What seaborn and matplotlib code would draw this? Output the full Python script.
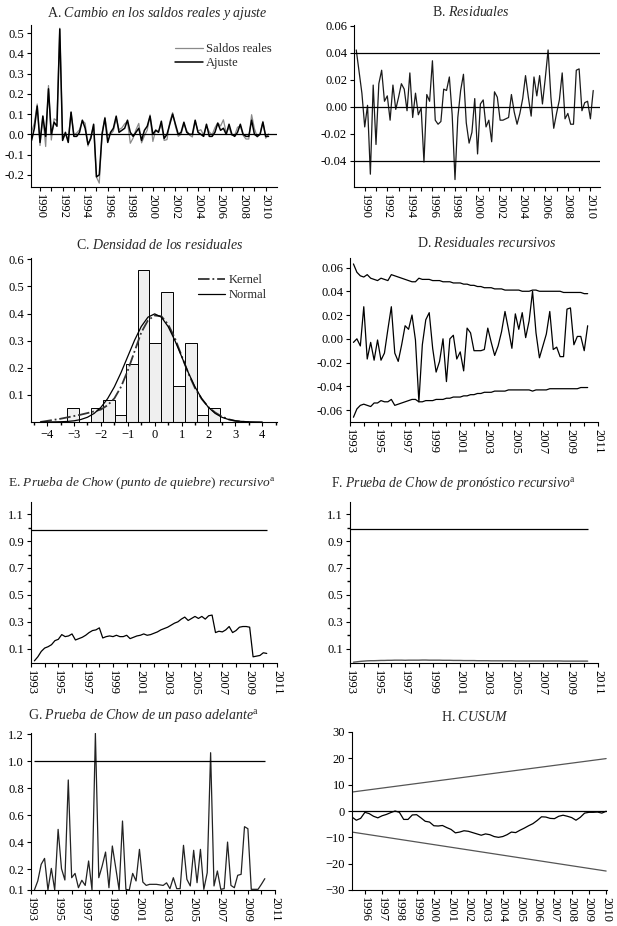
import numpy as np
import pandas as pd
import matplotlib
matplotlib.use("Agg")
import matplotlib.pyplot as plt
import seaborn as sns

# A. change in real balances (actual) and fitted, quarterly from 1989Q2
ajuste = [-0.03, 0.03, 0.14, -0.04, 0.09, -0.01, 0.225, 0.0, 0.06, 0.04,
          0.52, -0.03, 0.01, -0.04, 0.11, -0.01, -0.01, 0.01, 0.07, 0.03,
          -0.05, -0.02, 0.05, -0.21, -0.20, 0.0, 0.08, -0.04, 0.01, 0.03,
          0.09, 0.01, 0.02, 0.03, 0.07, 0.01, -0.01, 0.01, 0.03, -0.03,
          0.02, 0.04, 0.09, 0.0, 0.02, 0.01, 0.065, -0.02, 0.0, 0.05,
          0.10, 0.05, 0.0, 0.01, 0.06, 0.01, 0.0, 0.0, 0.07, 0.01,
          0.0, -0.01, 0.05, -0.01, -0.01, 0.01, 0.055, 0.02, 0.03, 0.0,
          0.05, 0.0, -0.01, 0.01, 0.05, 0.0, -0.01, -0.01, 0.07, 0.0,
          -0.01, 0.0, 0.06, -0.01, -0.01]
saldos = [0.012, 0.056, 0.150, -0.055, 0.091, -0.060, 0.241, -0.028, 0.077, 0.067,
          0.524, -0.022, 0.000, -0.024, 0.108, -0.003, 0.007, 0.023, 0.067, 0.055,
          -0.058, -0.010, 0.044, -0.211, -0.241, 0.009, 0.084, -0.006, 0.000, 0.017,
          0.079, 0.023, 0.032, 0.052, 0.064, -0.044, -0.018, 0.022, 0.054, -0.042,
          -0.007, 0.021, 0.096, -0.035, 0.022, 0.015, 0.050, -0.030, -0.026, 0.061,
          0.107, 0.040, -0.010, 0.001, 0.052, 0.019, -0.004, -0.013, 0.065, 0.016,
          0.023, -0.003, 0.043, 0.012, -0.002, 0.033, 0.057, 0.041, 0.072, 0.007,
          0.034, -0.005, -0.005, 0.035, 0.041, -0.005, -0.023, -0.023, 0.097, 0.028,
          -0.013, 0.003, 0.064, -0.019, 0.002]

# B. residuals
residuales = [0.042, 0.026, 0.010, -0.015, 0.001, -0.050, 0.016, -0.028, 0.017, 0.027,
              0.004, 0.008, -0.010, 0.016, -0.002, 0.007, 0.017, 0.013, -0.003, 0.025,
              -0.008, 0.010, -0.006, -0.001, -0.041, 0.009, 0.004, 0.034, -0.010, -0.013,
              -0.011, 0.013, 0.012, 0.022, -0.006, -0.054, -0.008, 0.012, 0.024, -0.012,
              -0.027, -0.019, 0.006, -0.035, 0.002, 0.005, -0.015, -0.010, -0.026, 0.011,
              0.007, -0.010, -0.010, -0.009, -0.008, 0.009, -0.004, -0.013, -0.005, 0.006,
              0.023, 0.007, -0.007, 0.022, 0.008, 0.023, 0.002, 0.021, 0.042, 0.007,
              -0.016, -0.005, 0.005, 0.025, -0.009, -0.005, -0.013, -0.013, 0.027, 0.028,
              -0.003, 0.003, 0.004, -0.009, 0.012]
resid_bands = [0.04, 0.0, -0.04]

# C. density of residuals
bin_edges = [-3.25, -2.8, -2.38, -1.94, -1.49, -1.07, -0.62, -0.2, 0.23, 0.68,
             1.12, 1.56, 1.99, 2.42]
bin_density = [0.051, 0.0, 0.051, 0.083, 0.026, 0.213, 0.561, 0.293, 0.479, 0.133,
               0.293, 0.026, 0.051]
curve_x = [-4.25, -4.0, -3.75, -3.5, -3.25, -3.0, -2.75, -2.5, -2.25, -2.0,
           -1.75, -1.5, -1.25, -1.0, -0.75, -0.5, -0.25, 0.0, 0.25, 0.5,
           0.75, 1.0, 1.25, 1.5, 1.75, 2.0, 2.25, 2.5, 2.75, 3.0,
           3.25, 3.5, 3.75, 4.0]
kernel_y = [0.0, 0.004, 0.008, 0.012, 0.017, 0.022, 0.027, 0.033, 0.039, 0.046,
            0.062, 0.087, 0.13, 0.19, 0.26, 0.33, 0.375, 0.393, 0.39, 0.36,
            0.31, 0.245, 0.18, 0.125, 0.085, 0.055, 0.035, 0.02, 0.01, 0.004,
            0.001, 0.0, None, None]
normal_y = [0.0, 0.0001, 0.0004, 0.0009, 0.002, 0.0044, 0.0091, 0.0175, 0.0317, 0.054,
            0.0863, 0.1295, 0.1826, 0.242, 0.3011, 0.3521, 0.3867, 0.3989, 0.3867, 0.3521,
            0.3011, 0.242, 0.1826, 0.1295, 0.0863, 0.054, 0.0317, 0.0175, 0.0091, 0.0044,
            0.002, 0.0009, 0.0004, 0.0001]

# D. recursive residuals from 1993Q2 with +/- 2 s.e.
resid_rec = [-0.003, 0.0, -0.006, 0.027, -0.017, -0.003, -0.018, -0.001, -0.018, -0.012,
             0.008, 0.027, -0.012, -0.019, -0.005, 0.011, 0.008, 0.020, -0.001, -0.053,
             -0.005, 0.016, 0.022, -0.008, -0.028, -0.019, 0.0, -0.036, 0.0, 0.003,
             -0.017, -0.011, -0.027, 0.009, 0.005, -0.010, -0.010, -0.010, -0.009, 0.009,
             -0.003, -0.014, -0.006, 0.006, 0.023, 0.008, -0.008, 0.021, 0.008, 0.022,
             0.001, 0.015, 0.040, 0.005, -0.016, -0.006, 0.004, 0.023, -0.009, -0.007,
             -0.015, -0.015, 0.025, 0.026, -0.005, 0.002, 0.002, -0.010, 0.011]
rec_upper = [0.063, 0.056, 0.053, 0.052, 0.054, 0.051, 0.050, 0.049, 0.051, 0.050,
             0.049, 0.054, 0.053, 0.052, 0.051, 0.050, 0.049, 0.048, 0.048, 0.051,
             0.050, 0.050, 0.050, 0.049, 0.049, 0.049, 0.048, 0.048, 0.048, 0.047,
             0.047, 0.047, 0.046, 0.046, 0.045, 0.045, 0.044, 0.044, 0.043, 0.043,
             0.043, 0.042, 0.042, 0.042, 0.041, 0.041, 0.041, 0.041, 0.041, 0.040,
             0.040, 0.040, 0.041, 0.041, 0.040, 0.040, 0.040, 0.040, 0.040, 0.040,
             0.040, 0.039, 0.039, 0.039, 0.039, 0.039, 0.039, 0.038, 0.038]
rec_lower = [-0.066, -0.059, -0.056, -0.055, -0.056, -0.057, -0.054, -0.054, -0.052, -0.053,
             -0.053, -0.051, -0.056, -0.055, -0.054, -0.053, -0.052, -0.051, -0.051, -0.053,
             -0.053, -0.052, -0.052, -0.052, -0.051, -0.051, -0.051, -0.050, -0.050, -0.049,
             -0.049, -0.049, -0.048, -0.048, -0.047, -0.047, -0.046, -0.046, -0.045, -0.045,
             -0.045, -0.044, -0.044, -0.044, -0.044, -0.043, -0.043, -0.043, -0.043, -0.043,
             -0.043, -0.043, -0.044, -0.043, -0.043, -0.043, -0.043, -0.042, -0.042, -0.042,
             -0.042, -0.042, -0.042, -0.042, -0.042, -0.042, -0.041, -0.041, -0.041]

# E. recursive Chow breakpoint test
chow_break = [0.01, 0.04, 0.08, 0.105, 0.115, 0.13, 0.16, 0.17, 0.205, 0.19,
              0.195, 0.21, 0.165, 0.175, 0.185, 0.2, 0.22, 0.235, 0.24, 0.255,
              0.18, 0.19, 0.195, 0.19, 0.2, 0.19, 0.19, 0.2, 0.175, 0.185,
              0.195, 0.2, 0.21, 0.2, 0.205, 0.215, 0.225, 0.24, 0.25, 0.26,
              0.275, 0.29, 0.30, 0.32, 0.335, 0.31, 0.325, 0.34, 0.325, 0.34,
              0.32, 0.345, 0.35, 0.22, 0.23, 0.225, 0.24, 0.265, 0.22, 0.235,
              0.26, 0.265, 0.265, 0.26, 0.04, 0.045, 0.05, 0.07, 0.065]
break_crit = 0.98

# F. recursive Chow forecast test
chow_fcst = [0.0, 0.003, 0.006, 0.008, 0.010, 0.011, 0.011, 0.012, 0.013, 0.013,
             0.014, 0.014, 0.015, 0.015, 0.015, 0.014, 0.015, 0.015, 0.015, 0.015,
             0.016, 0.016, 0.015, 0.015, 0.015, 0.015, 0.014, 0.014, 0.014, 0.013,
             0.013, 0.013, 0.012, 0.012, 0.012, 0.012, 0.011, 0.011, 0.011, 0.011,
             0.010, 0.010, 0.010, 0.010, 0.010, 0.010, 0.010, 0.009, 0.009, 0.009,
             0.009, 0.009, 0.009, 0.009, 0.009, 0.009, 0.009, 0.009, 0.009, 0.009,
             0.009, 0.008, 0.008, 0.008, 0.008, 0.008, 0.008, 0.008, 0.008]
fcst_crit = 0.99

# G. one-step-ahead Chow test
chow_step = [0.047, 0.114, 0.237, 0.281, 0.047, 0.207, 0.047, 0.496, 0.205, 0.121,
             0.862, 0.138, 0.17, 0.064, 0.119, 0.081, 0.262, 0.047, 1.207, 0.138,
             0.225, 0.328, 0.064, 0.373, 0.212, 0.047, 0.558, 0.052, 0.047, 0.17,
             0.114, 0.348, 0.106, 0.081, 0.089, 0.089, 0.089, 0.085, 0.081, 0.10,
             0.057, 0.138, 0.057, 0.057, 0.378, 0.126, 0.077, 0.341, 0.101, 0.348,
             0.052, 0.175, 1.064, 0.077, 0.188, 0.052, 0.057, 0.402, 0.081, 0.064,
             0.156, 0.163, 0.516, 0.501, 0.052, 0.052, 0.052, 0.09, 0.131]
step_crit = 1.0

# H. CUSUM from 1995Q2 with 5% bands
cusum = [-2.3, -3.5, -2.8, -0.5, -1.0, -2.0, -2.6, -1.8, -1.3, -0.6,
         0.0, -0.5, -3.2, -3.2, -1.5, -1.4, -2.6, -3.9, -4.2, -5.6,
         -5.7, -5.5, -6.3, -7.0, -8.3, -8.0, -7.5, -7.7, -8.2, -8.7,
         -9.2, -8.7, -9.0, -9.7, -10.0, -9.7, -9.0, -8.0, -8.2, -7.3,
         -6.5, -5.6, -4.8, -3.6, -2.2, -2.3, -2.8, -2.9, -2.0, -1.6,
         -2.0, -2.5, -3.5, -2.4, -0.8, -0.5, -0.5, -0.4, -0.8, -0.1]
cusum_upper = [7.2, 19.9]
cusum_lower = [-8.0, -22.8]


def quarters(start, n):
    p = pd.period_range(start, periods=n, freq="Q")
    return np.asarray(p.year + (p.quarter - 1) / 4, dtype=float)


sns.set_theme(style="ticks")
plt.rcParams.update({
    "font.family": ["Liberation Serif", "DejaVu Serif"],
    "mathtext.fontset": "custom",
    "mathtext.rm": "Liberation Serif",
    "mathtext.it": "Liberation Serif:italic",
    "axes.edgecolor": "black",
    "axes.linewidth": 0.8,
    "xtick.major.size": 3,
    "ytick.major.size": 3,
    "xtick.minor.size": 2,
    "ytick.minor.size": 2,
    "xtick.major.width": 0.8,
    "ytick.major.width": 0.8,
    "xtick.labelsize": 9,
    "ytick.labelsize": 9,
    "xtick.color": "black",
    "ytick.color": "black",
    "axes.unicode_minus": True,
})

W, H = 617, 926
fig = plt.figure(figsize=(W / 100, H / 100), dpi=100)


def add_ax(l, t, r, b):
    ax = fig.add_axes([l / W, 1 - b / H, (r - l) / W, (b - t) / H])
    sns.despine(ax=ax)
    ax.tick_params(direction="out", pad=2)
    return ax


def title(x, y, letter, text, sup=False, size=10):
    body = text.replace(" ", r"\ ")
    s = letter + r". $\mathit{" + body + "}"
    s += r"^{\mathrm{a}}$" if sup else "$"
    fig.text(x / W, 1 - y / H, s, ha="center", va="center", fontsize=size)


def year_ticks(ax, first, last, step):
    years = list(range(first, last + 1))
    labels = [str(y) if (y - first) % step == 0 else "" for y in years]
    ax.set_xticks(years, labels, rotation=270)


# A
ax = add_ax(31, 25, 277, 187)
xa = quarters("1989Q2", len(ajuste))
sns.lineplot(x=xa, y=saldos, ax=ax, color="#8a8a8a", lw=0.9, label="Saldos reales")
sns.lineplot(x=xa, y=ajuste, ax=ax, color="black", lw=1.1, label="Ajuste")
ax.axhline(0, color="black", lw=0.9)
ax.set_xlim(1989.2, 2011.0)
ax.set_ylim(-0.26, 0.54)
ax.set_yticks([0.5, 0.4, 0.3, 0.2, 0.1, 0.0, -0.1, -0.2])
ax.yaxis.set_major_formatter(matplotlib.ticker.FormatStrFormatter("%.1f"))
year_ticks(ax, 1990, 2010, 2)
ax.legend(frameon=False, fontsize=9, loc="upper right", bbox_to_anchor=(1.0, 0.92),
          handlelength=2.2, handletextpad=0.3, labelspacing=0.2, borderaxespad=0)
title(157, 13, "A", "Cambio en los saldos reales y ajuste")

# B
ax = add_ax(354, 25, 600, 187)
sns.lineplot(x=quarters("1989Q2", len(residuales)), y=residuales, ax=ax, color="#1a1a1a", lw=0.9)
for v in resid_bands:
    ax.axhline(v, color="black", lw=0.9)
ax.set_xlim(1989.05, 2010.85)
ax.set_ylim(-0.0595, 0.0605)
ax.set_yticks([0.06, 0.04, 0.02, 0.0, -0.02, -0.04])
ax.yaxis.set_major_formatter(matplotlib.ticker.FormatStrFormatter("%.2f"))
year_ticks(ax, 1990, 2010, 2)
title(471, 12, "B", "Residuales")

# C
ax = add_ax(31, 258, 277, 422)
centers = [(a + b) / 2 for a, b in zip(bin_edges[:-1], bin_edges[1:])]
sns.histplot(x=centers, weights=bin_density, bins=bin_edges, ax=ax, stat="count",
             color="#efefef", edgecolor="black", linewidth=0.7, alpha=1)
sns.lineplot(x=curve_x, y=kernel_y, ax=ax, color="#333333", lw=1.3, ls="-.", label="Kernel")
sns.lineplot(x=curve_x, y=normal_y, ax=ax, color="black", lw=0.9, label="Normal")
ax.set_xlim(-4.6, 4.55)
ax.set_ylim(0, 0.605)
ax.set_xticks(range(-4, 5))
ax.set_xticks(np.arange(-4.5, 4.6, 0.5), minor=True)
ax.set_yticks([0.1, 0.2, 0.3, 0.4, 0.5, 0.6])
ax.yaxis.set_major_formatter(matplotlib.ticker.FormatStrFormatter("%.1f"))
ax.set_ylabel("")
ax.legend(frameon=False, fontsize=9, loc="upper right", bbox_to_anchor=(0.98, 0.93),
          handlelength=2.2, handletextpad=0.3, labelspacing=0.2, borderaxespad=0)
title(160, 245, "C", "Densidad de los residuales")

# D
ax = add_ax(350, 258, 598, 422)
xd = quarters("1993Q2", len(resid_rec))
for series in (rec_upper, resid_rec, rec_lower):
    sns.lineplot(x=xd, y=series, ax=ax, color="black", lw=0.9)
ax.set_xlim(1993, 2011)
ax.set_ylim(-0.07, 0.068)
ax.set_yticks([0.06, 0.04, 0.02, 0.0, -0.02, -0.04, -0.06])
ax.yaxis.set_major_formatter(matplotlib.ticker.FormatStrFormatter("%.2f"))
year_ticks(ax, 1993, 2011, 2)
title(487, 243, "D", "Residuales recursivos")


def chow_axis(ax):
    ax.set_xlim(1993, 2011)
    ax.set_ylim(-0.006, 1.19)
    ax.set_yticks([0.1, 0.3, 0.5, 0.7, 0.9, 1.1])
    ax.set_yticks([0.2, 0.4, 0.6, 0.8, 1.0], minor=True)
    ax.yaxis.set_major_formatter(matplotlib.ticker.FormatStrFormatter("%.1f"))
    year_ticks(ax, 1993, 2011, 2)


# E
ax = add_ax(31, 502, 277, 663)
xe = quarters("1993Q2", len(chow_break))
sns.lineplot(x=xe, y=chow_break, ax=ax, color="black", lw=0.9)
ax.hlines(break_crit, 1993, xe[-1], color="black", lw=0.9)
chow_axis(ax)
title(142, 483, "E", "Prueba de Chow (punto de quiebre) recursivo", sup=True, size=9.6)

# F
ax = add_ax(350, 502, 598, 663)
xf = quarters("1993Q2", len(chow_fcst))
sns.lineplot(x=xf, y=chow_fcst, ax=ax, color="#555555", lw=1.0)
ax.hlines(fcst_crit, 1993, xf[-1], color="black", lw=0.9)
chow_axis(ax)
title(453, 483, "F", "Prueba de Chow de pronóstico recursivo", sup=True, size=9.8)

# G
ax = add_ax(31, 733, 275, 890)
xg = quarters("1993Q2", len(chow_step))
sns.lineplot(x=xg, y=chow_step, ax=ax, color="#222222", lw=0.9)
ax.hlines(step_crit, xg[0], xg[-1], color="black", lw=0.9)
ax.set_xlim(1993, 2011)
ax.set_ylim(0.047, 1.21)
ax.set_yticks([0.047, 0.2, 0.4, 0.6, 0.8, 1.0, 1.2],
              ["0.1", "0.2", "0.4", "0.6", "0.8", "1.0", "1.2"])
year_ticks(ax, 1993, 2011, 2)
title(144, 715, "G", "Prueba de Chow de un paso adelante", sup=True)

# H
ax = add_ax(352, 732, 607, 890)
xh = quarters("1995Q2", len(cusum))
ends = [xh[0], xh[-1]]
sns.lineplot(x=ends, y=cusum_upper, ax=ax, color="#555555", lw=0.9)
sns.lineplot(x=ends, y=cusum_lower, ax=ax, color="#555555", lw=0.9)
sns.lineplot(x=xh, y=cusum, ax=ax, color="black", lw=0.9)
ax.axhline(0, color="black", lw=0.9)
ax.set_xlim(1995.25, 2010.05)
ax.set_ylim(-30, 30)
ax.set_yticks([30, 20, 10, 0, -10, -20, -30])
year_ticks(ax, 1996, 2010, 1)
title(475, 717, "H", "CUSUM")

fig.savefig("out.png", dpi=100)
